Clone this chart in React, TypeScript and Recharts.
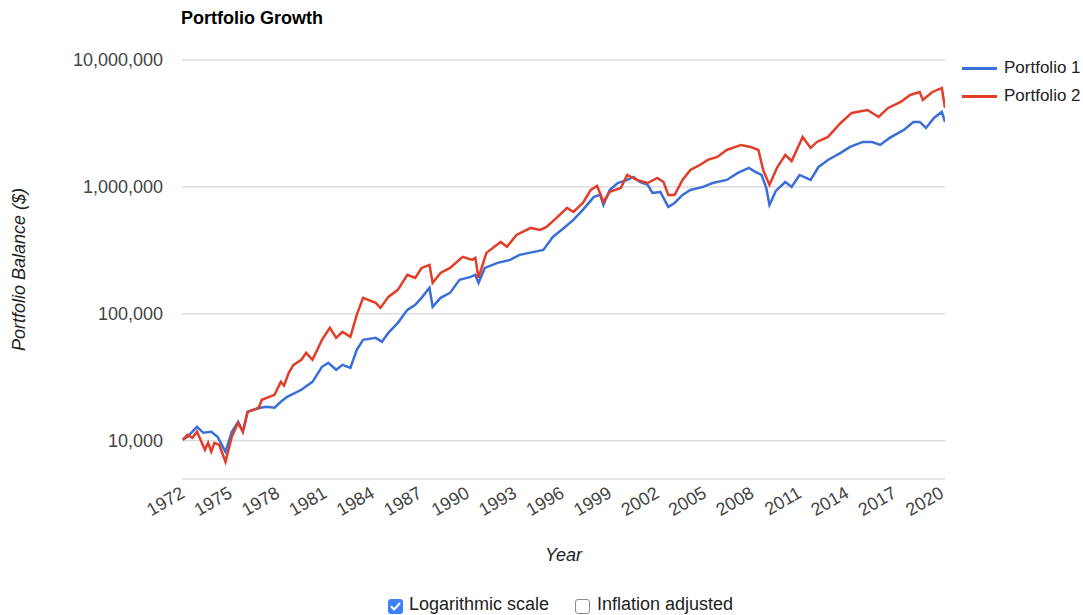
import { LineChart, Line, XAxis, YAxis, CartesianGrid } from 'recharts'

const p1Years = [
  1972.0, 1972.3, 1972.9, 1973.3, 1973.8, 1974.2, 1974.7, 1975.1, 1975.5, 1975.8,
  1976.1, 1976.9, 1977.3, 1977.8, 1978.2, 1978.6, 1979.5, 1980.2, 1980.8, 1981.2, 1981.7,
  1982.1, 1982.6, 1983.0, 1983.4, 1984.2, 1984.6, 1985.0, 1985.6, 1986.2, 1986.7,
  1987.1, 1987.6, 1987.8, 1988.3, 1988.9, 1989.5, 1990.2, 1990.5, 1990.7, 1991.1,
  1991.9, 1992.7, 1993.3, 1994.2, 1994.8, 1995.4, 1996.1, 1996.7, 1997.3, 1998.0,
  1998.4, 1998.6, 1999.0, 1999.5, 2000.1, 2000.5, 2000.9, 2001.4, 2001.7, 2002.2,
  2002.7, 2003.1, 2003.6, 2004.1, 2004.9, 2005.5, 2006.4, 2007.1, 2007.8,
  2008.2, 2008.6, 2008.9, 2009.1, 2009.5, 2010.1, 2010.5, 2011.0, 2011.7, 2012.2,
  2012.8, 2013.6, 2014.2, 2015.0, 2015.6, 2016.1, 2016.7, 2017.6, 2018.2, 2018.6,
  2019.0, 2019.5, 2020.0, 2020.2,
]
const p1Values = [
  10180, 10750, 12890, 11560, 11780, 10750, 8190, 11780, 14120, 11780,
  16910, 18200, 18530, 18200, 20280, 22200, 25230, 29160, 38280, 41120, 36240,
  39650, 37570, 52080, 62400, 64720, 60220, 70810, 84940, 107500, 117800,
  133700, 160300, 113500, 133700, 146300, 185300, 195600, 202900, 175400, 230100,
  252200, 266200, 291700, 307800, 319100, 403800, 475500, 549600, 659300, 834300,
  865600, 721400, 946500, 1074000, 1135000, 1199000, 1094000, 1037000, 897000, 914000,
  696000, 748000, 865600, 946500, 1000000, 1074000, 1135000, 1289000, 1412000,
  1313000, 1242000, 980000, 721400, 930000, 1094000, 1000000, 1242000, 1135000, 1436000,
  1632000, 1854000, 2066000, 2261000, 2261000, 2142000, 2433000, 2811000, 3251000, 3250000,
  2915000, 3494000, 3900000, 3251000,
]

const p2Years = [
  1972.0, 1972.3, 1972.6, 1972.9, 1973.4, 1973.6, 1973.8, 1974.0, 1974.3, 1974.7, 1975.1,
  1975.5, 1975.8, 1976.1, 1976.8, 1977.0, 1977.8, 1978.2, 1978.4, 1978.7, 1979.0, 1979.5,
  1979.8, 1980.2, 1980.8, 1981.3, 1981.7, 1982.1, 1982.6, 1983.0, 1983.4, 1984.2,
  1984.5, 1985.0, 1985.6, 1986.2, 1986.7, 1987.1, 1987.6, 1987.8, 1988.3, 1988.9,
  1989.7, 1990.3, 1990.5, 1990.7, 1991.2, 1992.1, 1992.5, 1993.1, 1994.0, 1994.6,
  1995.0, 1995.7, 1996.3, 1996.7, 1997.3, 1997.8, 1998.2, 1998.6, 1999.0, 1999.7,
  2000.1, 2000.7, 2001.4, 2002.0, 2002.4, 2002.7, 2003.1, 2003.6, 2004.1, 2004.7,
  2005.2, 2005.8, 2006.4, 2007.3, 2007.9, 2008.4, 2008.7, 2009.1, 2009.6, 2010.1,
  2010.5, 2011.2, 2011.7, 2012.1, 2012.8, 2013.6, 2014.3, 2015.3, 2016.0, 2016.6,
  2017.4, 2018.0, 2018.6, 2018.8, 2019.4, 2020.0, 2020.2,
]
const p2Values = [
  10180, 11150, 10560, 11780, 8490, 9640, 8200, 9640, 9300, 6830, 10750,
  13860, 11780, 16910, 18200, 21030, 23020, 29160, 27200, 34300, 39650, 43440,
  49320, 43440, 62400, 77600, 64720, 72120, 65900, 98200, 133700, 122200,
  111500, 136100, 154500, 202900, 191900, 230100, 243200, 175400, 210300, 230100,
  281100, 266200, 276100, 191900, 302300, 368900, 337300, 418800, 475500, 458600,
  484200, 580300, 683300, 635100, 748000, 946500, 1018000, 762000, 914000, 982000,
  1242000, 1135000, 1074000, 1178000, 1094000, 865600, 865600, 1135000, 1361000, 1490000,
  1632000, 1722000, 1955000, 2142000, 2066000, 1955000, 1361000, 1037000, 1436000, 1786000,
  1600000, 2477000, 2028000, 2261000, 2477000, 3191000, 3828000, 4039000, 3557000, 4190000,
  4669000, 5300000, 5600000, 4845000, 5600000, 6020000, 4190000,
]

const xTicks = [1972, 1975, 1978, 1981, 1984, 1987, 1990, 1993, 1996, 1999, 2002, 2005, 2008, 2011, 2014, 2017, 2020]
const yTicks = [10000, 100000, 1000000, 10000000]

const seriesNames = ['Portfolio 1', 'Portfolio 2']
const seriesColors = ['#3a6fd6', '#e23d28']

const p1Data = p1Years.map((year, i) => ({ year, value: p1Values[i] }))
const p2Data = p2Years.map((year, i) => ({ year, value: p2Values[i] }))

const FONT = '"Liberation Sans", Arial, Helvetica, sans-serif'

function YearTick({ x, y, payload }: any) {
  return (
    <g transform={`translate(${x},${y + 4})`}>
      <text x={0} y={0} dy="0.35em" textAnchor="end" transform="rotate(-30)" fontSize={18} fill="#444">
        {payload.value}
      </text>
    </g>
  )
}

export default function App() {
  return (
    <div style={{ position: 'absolute', left: 0, top: 0, width: 1083, height: 615, overflow: 'hidden', fontFamily: FONT, background: '#fff' }}>
      <div style={{ position: 'absolute', left: 181, top: 8, fontSize: 18, fontWeight: 'bold', color: '#000' }}>
        Portfolio Growth
      </div>

      <LineChart width={1083} height={615} margin={{ top: 60, right: 138, left: 0, bottom: 76 }} style={{ fontFamily: FONT }}>
        <CartesianGrid vertical={false} stroke="#cccccc" />
        <XAxis
          dataKey="year"
          type="number"
          domain={[1971.95, 2020.2]}
          ticks={xTicks}
          allowDataOverflow
          axisLine={false}
          tickLine={false}
          height={60}
          interval={0}
          tick={<YearTick />}
          label={{ value: 'Year', position: 'bottom', offset: 9, fontSize: 18, fill: '#222', fontStyle: 'italic' }}
        />
        <YAxis
          scale="log"
          domain={[5000, 10000000]}
          ticks={yTicks}
          allowDataOverflow
          axisLine={false}
          tickLine={false}
          width={182}
          tickMargin={13}
          tick={{ fontSize: 18, fill: '#444' }}
          tickFormatter={(v: number) => v.toLocaleString('en-US')}
          label={{
            value: 'Portfolio Balance ($)',
            angle: -90,
            position: 'insideLeft',
            offset: 19,
            fontSize: 18,
            fill: '#222',
            fontStyle: 'italic',
            style: { textAnchor: 'middle' },
          }}
        />
        <Line data={p1Data} dataKey="value" name={seriesNames[0]} stroke={seriesColors[0]} strokeWidth={2.5} dot={false} isAnimationActive={false} />
        <Line data={p2Data} dataKey="value" name={seriesNames[1]} stroke={seriesColors[1]} strokeWidth={2.5} dot={false} isAnimationActive={false} />
      </LineChart>

      {seriesNames.map((name, i) => (
        <div key={name} style={{ position: 'absolute', left: 962, top: 56 + i * 28, height: 24, display: 'flex', alignItems: 'center' }}>
          <div style={{ width: 35, height: 3, background: seriesColors[i] }} />
          <span style={{ marginLeft: 7, fontSize: 17, color: '#222' }}>{name}</span>
        </div>
      ))}

      <div style={{ position: 'absolute', left: 388, top: 599, width: 15, height: 15, borderRadius: 3, background: '#3b82f6' }}>
        <svg width={15} height={15} viewBox="0 0 15 15">
          <path d="M3.5 7.8 L6.2 10.5 L11.5 4.5" fill="none" stroke="#fff" strokeWidth={2} strokeLinecap="round" strokeLinejoin="round" />
        </svg>
      </div>
      <div style={{ position: 'absolute', left: 409, top: 594, fontSize: 18, color: '#222' }}>Logarithmic scale</div>
      <div style={{ position: 'absolute', left: 575, top: 599, width: 13, height: 13, borderRadius: 3, border: '1px solid #8a8a8a', background: '#fff' }} />
      <div style={{ position: 'absolute', left: 597, top: 594, fontSize: 18, color: '#222' }}>Inflation adjusted</div>
    </div>
  )
}
